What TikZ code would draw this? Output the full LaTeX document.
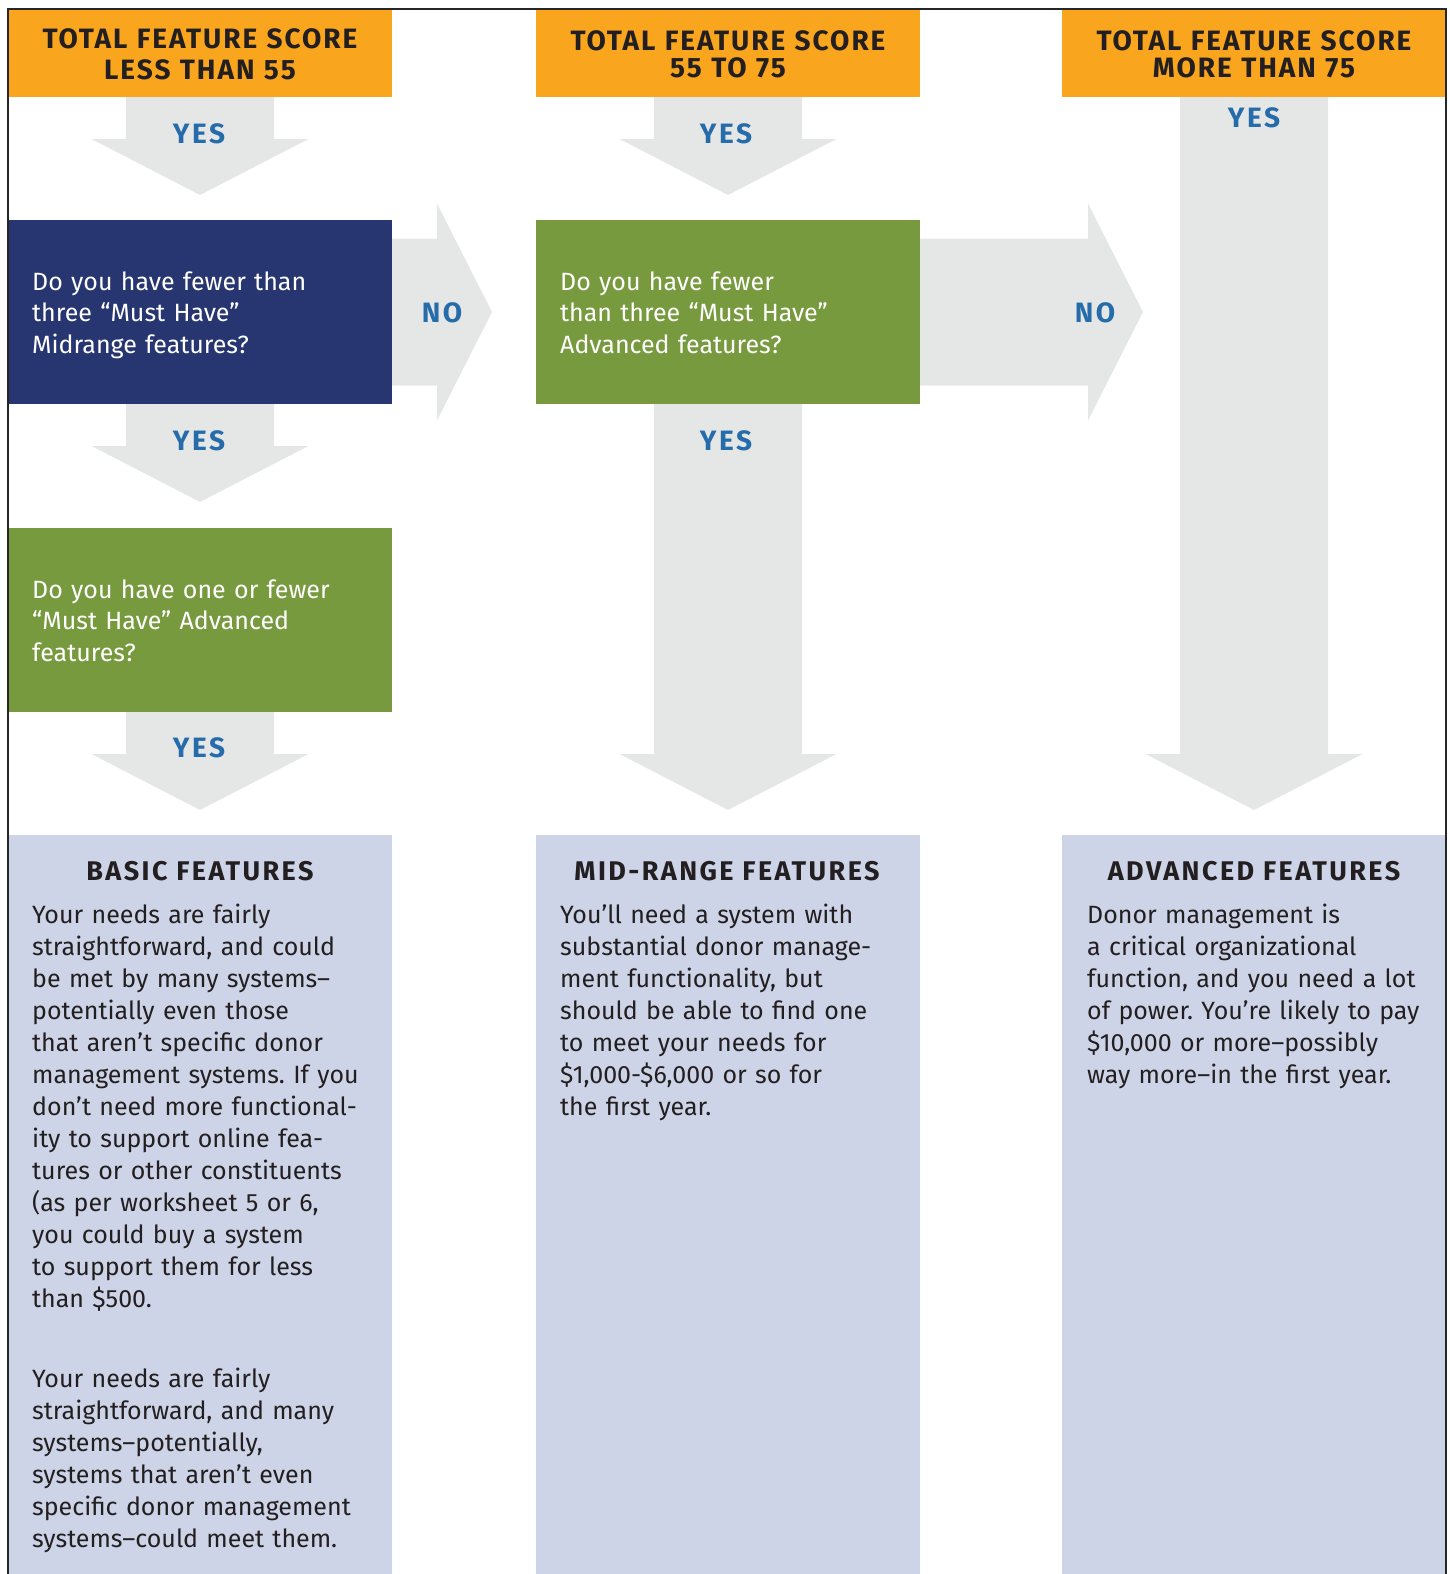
\documentclass[tikz,border=0pt]{standalone}
\usepackage{fontspec}
\setmainfont{Fira Sans}
\newfontfamily\capsfont[LetterSpace=7]{Fira Sans}
\newfontfamily\titlefont[LetterSpace=9]{Fira Sans}
\usetikzlibrary{calc}
\definecolor{hdrorange}{RGB}{249,165,30}
\definecolor{navybox}{RGB}{39,54,112}
\definecolor{greenbox}{RGB}{120,154,63}
\definecolor{arrgray}{RGB}{229,231,231}
\definecolor{resultbox}{RGB}{205,212,231}
\definecolor{yesblue}{RGB}{38,107,170}
\definecolor{darktext}{RGB}{35,31,32}
\newcommand\fatdown[2]{\fill[arrgray] ($(#1)+(-74,0)$) -- ($(#1)+(74,0)$) -- ($(#2)+(74,-56)$) -- ($(#2)+(108.5,-56)$) -- (#2) -- ($(#2)+(-108.5,-56)$) -- ($(#2)+(-74,-56)$) -- cycle;}
\newcommand\fatright[2]{\fill[arrgray] ($(#1)+(0,-73.5)$) -- ($(#2)+(-55,-73.5)$) -- ($(#2)+(-55,-108.5)$) -- (#2) -- ($(#2)+(-55,108.5)$) -- ($(#2)+(-55,73.5)$) -- ($(#1)+(0,73.5)$) -- cycle;}
\tikzset{
  boxnode/.style={inner sep=0pt, outer sep=0pt, anchor=north west, minimum width=384pt},
  hdrbox/.style={boxnode, fill=hdrorange, minimum height=88pt},
  qbox/.style={boxnode, minimum height=184pt},
  resbox/.style={boxnode, fill=resultbox, minimum height=739pt},
  hdrtext/.style={inner sep=0pt, anchor=base, text width=384pt, align=center, text=darktext, font=\capsfont\bfseries\fontsize{28}{27}\selectfont},
  qtext/.style={inner sep=0pt, anchor=base west, text width=360pt, align=left, text=white, font=\frenchspacing\fontsize{25}{31.5}\selectfont},
  bodytext/.style={inner sep=0pt, anchor=base west, text width=360pt, align=left, text=darktext, font=\frenchspacing\fontsize{25}{32}\selectfont},
  restitle/.style={inner sep=0pt, anchor=base, text=darktext, font=\titlefont\bfseries\fontsize{27}{30}\selectfont},
  yeslabel/.style={inner sep=0pt, anchor=base, text=yesblue, font=\titlefont\bfseries\fontsize{28}{30}\selectfont},
  frameline/.style={draw=black!85, line width=1.6pt}
}
\begin{document}
\begin{tikzpicture}[x=1pt,y=-1pt]
\useasboundingbox (0,0) rectangle (1450,1574);
% boxes
\node[hdrbox] (h1) at (8,9) {};
\node[hdrbox] (h2) at (536,9) {};
\node[hdrbox] (h3) at (1062,9) {};
\node[qbox, fill=navybox] (q1) at (8,220) {};
\node[qbox, fill=greenbox] (q2) at (536,220) {};
\node[qbox, fill=greenbox] (g1) at (8,528) {};
\node[resbox] (r1) at (8,835) {};
\node[resbox] (r2) at (536,835) {};
\node[resbox] (r3) at (1062,835) {};
% arrow tips
\coordinate (t1) at ($(q1.north)+(0,-25)$);
\coordinate (t2) at ($(g1.north)+(0,-26)$);
\coordinate (t3) at ($(r1.north)+(0,-25)$);
\coordinate (t4) at ($(q2.north)+(0,-25)$);
\coordinate (t5) at ($(r2.north)+(0,-25)$);
\coordinate (t6) at ($(r3.north)+(0,-25)$);
\coordinate (n1) at ($(q2.west)+(-44,0)$);
\coordinate (n2) at ($(q2.east)+(223,0)$);
% fat arrows
\fatdown{h1.south}{t1}
\fatdown{q1.south}{t2}
\fatdown{g1.south}{t3}
\fatdown{h2.south}{t4}
\fatdown{q2.south}{t5}
\fatdown{h3.south}{t6}
\fatright{q1.east}{n1}
\fatright{q2.east}{n2}
% redraw boxes above arrows
\fill[hdrorange] (h1.north west) rectangle (h1.south east);
\fill[hdrorange] (h2.north west) rectangle (h2.south east);
\fill[hdrorange] (h3.north west) rectangle (h3.south east);
\fill[navybox] (q1.north west) rectangle (q1.south east);
\fill[greenbox] (q2.north west) rectangle (q2.south east);
% frame
\draw[frameline] (8,1574) -- (8,9) -- (1446,9) -- (1446,1574);
% header texts
\node[hdrtext, font=\capsfont\bfseries\fontsize{28}{32}\selectfont] (h1t) at (200,48) {TOTAL FEATURE SCORE\\LESS THAN 55};
\node[hdrtext] (h2t) at (728,50) {TOTAL FEATURE SCORE\\55 TO 75};
\node[hdrtext] (h3t) at (1254,50) {TOTAL FEATURE SCORE\\MORE THAN 75};
% yes / no labels
\node[yeslabel] (y1) at (199,143) {YES};
\node[yeslabel] (y2) at (199,450) {YES};
\node[yeslabel] (y3) at (199,757) {YES};
\node[yeslabel] (y4) at (726,143) {YES};
\node[yeslabel] (y5) at (726,450) {YES};
\node[yeslabel] (y6) at (1254,127) {YES};
\node[yeslabel] (no1) at (442,322) {NO};
\node[yeslabel] (no2) at (1095,322) {NO};
% questions
\node[qtext] (q1t) at (32,290) {Do you have fewer than\\three “Must Have”\\Midrange features?};
\node[qtext] (q2t) at (560,290) {Do you have fewer\\than three “Must Have”\\Advanced features?};
\node[qtext] (g1t) at (32,598) {Do you have one or fewer\\“Must Have” Advanced\\features?};
% results
\node[restitle] (r1h) at (200,880) {BASIC FEATURES};
\node[restitle] (r2h) at (727,880) {MID-RANGE FEATURES};
\node[restitle] (r3h) at (1254,880) {ADVANCED FEATURES};
\node[bodytext] (r1t) at (32,923) {Your needs are fairly\\straightforward, and could\\be met by many systems–\\potentially even those\\that aren’t specific donor\\management systems. If you\\don’t need more functional-\\ity to support online fea-\\tures or other constituents\\(as per worksheet 5 or 6,\\you could buy a system\\to support them for less\\than \$500.};
\node[bodytext] (r1u) at (32,1387) {Your needs are fairly\\straightforward, and many\\systems–potentially,\\systems that aren’t even\\specific donor management\\systems–could meet them.};
\node[bodytext] (r2t) at (560,923) {You’ll need a system with\\substantial donor manage-\\ment functionality, but\\should be able to find one\\to meet your needs for\\\$1,000-\$6,000 or so for\\the first year.};
\node[bodytext] (r3t) at (1087,923) {Donor management is\\a critical organizational\\function, and you need a lot\\of power. You’re likely to pay\\\$10,000 or more–possibly\\way more–in the first year.};
\end{tikzpicture}
\end{document}
